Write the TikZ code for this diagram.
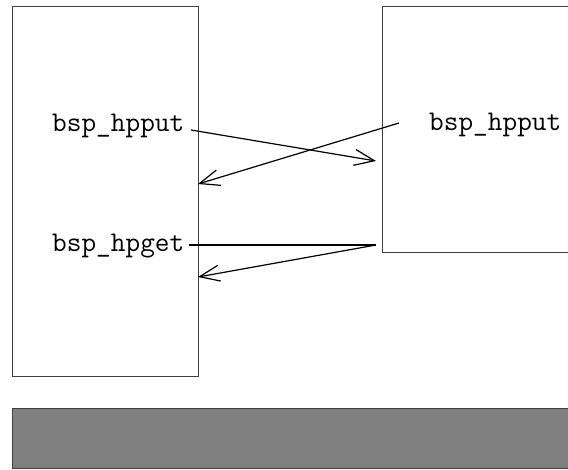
\documentclass[tikz,border=0pt]{standalone}
\usetikzlibrary{arrows.meta}
\begin{document}
\begin{tikzpicture}[x=1pt,y=-1pt,
  box/.style={draw=black!75,line width=1pt},
  lbl/.style={font=\ttfamily\fontsize{28.5}{30}\selectfont,inner sep=0pt,anchor=base west},
  msg/.style={line width=1.2pt,-{Straight Barb[length=20pt,width=16pt,line width=1.2pt]}},
  plain/.style={line width=1.2pt}]
\useasboundingbox (0,0) rectangle (568,469);
\clip (0,0) rectangle (568,469);
% process boxes and the shared bar underneath
\draw[box] (12,6) rectangle (198,376);
\draw[box] (382,6) rectangle (600,252);
\draw[box,fill=black!50] (12,408) rectangle (600,468);
% routine names
\node[lbl] (lput) at (52,131.5) {bsp\_hpput};
\node[lbl] (lget) at (52,251.5) {bsp\_hpget};
\node[lbl] (rput) at (429,130) {bsp\_hpput};
% message end points
\coordinate (lputEnd) at (191,130);
\coordinate (lgetEnd) at (189,245);
\coordinate (rputEnd) at (399,123);
\coordinate (rin) at (376,161);
\coordinate (rget) at (376,245);
\coordinate (lin1) at (198,184);
\coordinate (lin2) at (198,277);
% messages between the processes
\draw[msg] (lputEnd) -- (rin);
\draw[msg] (rputEnd) -- (lin1);
\draw[plain] (lgetEnd) -- (rget);
\draw[msg] (rget) -- (lin2);
\end{tikzpicture}
\end{document}
